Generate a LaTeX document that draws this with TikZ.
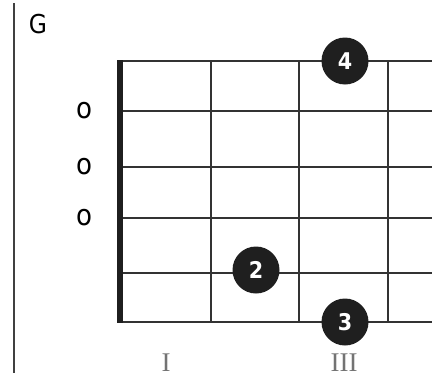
\documentclass[tikz,border=0pt]{standalone}
\usepackage{fontspec}
\setmainfont{Liberation Serif}
\setsansfont{DejaVu Sans Condensed}
\begin{document}
\begin{tikzpicture}[x=1pt,y=-1pt,
  gridline/.style={draw=black!80,line width=1.3pt},
  finger/.style={circle,fill=black!88,minimum size=47pt,inner sep=0pt,text=white,font=\sffamily\bfseries\fontsize{23}{23}\selectfont},
  openmark/.style={font=\sffamily\fontsize{29}{29}\selectfont,inner sep=0pt},
  fretnum/.style={font=\rmfamily\fontsize{27}{27}\selectfont,text=black!55,inner sep=0pt},
  title/.style={font=\sffamily\fontsize{26}{26}\selectfont,inner sep=0pt}]
\useasboundingbox (0,0) rectangle (443,380);
% left margin line
\coordinate (lt) at (14,3);
\coordinate (lb) at (14,373);
\draw[draw=black!75,line width=1.5pt] (lt) -- (lb);
% strings
\foreach \y [count=\i] in {61,111,167,218,273,322}{
  \coordinate (s\i l) at (120,\y);
  \coordinate (s\i r) at (432,\y);
  \draw[gridline] (s\i l) -- (s\i r);
}
% frets
\foreach \x [count=\i] in {211,299,388}{
  \coordinate (f\i t) at (\x,61);
  \coordinate (f\i b) at (\x,322);
  \draw[gridline] (f\i t) -- (f\i b);
}
% nut
\coordinate (nt) at (120,60.3);
\coordinate (nb) at (120,322.7);
\draw[draw=black!88,line width=6.5pt] (nt) -- (nb);
% title
\node[title] (g) at (38,24.5) {G};
% open strings
\node[openmark] (o1) at (84,111) {o};
\node[openmark] (o2) at (84,166.5) {o};
\node[openmark] (o3) at (84,218) {o};
% fingers
\node[finger] (d4) at (345,61) {4};
\node[finger] (d2) at (256,270) {2};
\node[finger] (d3) at (345,322) {3};
% fret numbers
\node[fretnum] (r1) at (166,362.5) {I};
\node[fretnum] (r3) at (344,362.5) {III};
\end{tikzpicture}
\end{document}
